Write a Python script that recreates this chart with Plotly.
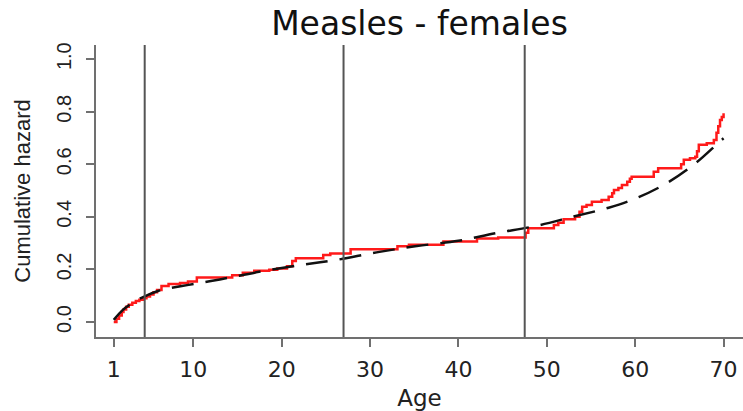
import plotly.graph_objects as go

# Observed cumulative hazard (step function, red)
obs_age = [1.0, 1.3, 1.6, 1.9, 2.1, 2.4, 2.7, 3.1, 3.5, 3.9, 4.3, 4.7, 5.1, 5.5, 5.9,
           6.4, 7.2, 8.5, 9.4, 10.4, 14.4, 15.6, 16.9, 18.6, 19.5, 20.6, 21.2, 21.6,
           24.7, 25.5, 27.8, 33.1, 34.4, 38.3, 42.1, 44.5, 47.6, 47.9, 50.8, 51.3,
           51.9, 53.2, 53.7, 54.0, 54.5, 55.1, 56.2, 57.0, 57.4, 57.6, 58.1, 58.5,
           59.1, 59.4, 59.6, 62.1, 62.6, 65.2, 65.5, 66.2, 66.8, 67.0, 67.2, 68.1,
           68.9, 69.2, 69.4, 69.6, 69.8, 70.0]
obs_haz = [0.0, 0.012, 0.025, 0.038, 0.048, 0.058, 0.066, 0.073, 0.080, 0.085, 0.090,
           0.097, 0.105, 0.113, 0.122, 0.137, 0.145, 0.148, 0.154, 0.169, 0.178, 0.187,
           0.195, 0.199, 0.204, 0.212, 0.232, 0.243, 0.255, 0.261, 0.277, 0.288, 0.294,
           0.306, 0.318, 0.322, 0.340, 0.357, 0.369, 0.378, 0.391, 0.401, 0.420, 0.439,
           0.445, 0.458, 0.464, 0.477, 0.490, 0.502, 0.510, 0.521, 0.534, 0.545, 0.553,
           0.572, 0.585, 0.600, 0.617, 0.623, 0.629, 0.650, 0.674, 0.680, 0.693, 0.720,
           0.745, 0.769, 0.780, 0.794]

# Fitted cumulative hazard (smooth, black dashed)
fit_age = [1, 2, 3, 4.2, 6, 8.7, 13, 17.8, 22.4, 26.3, 30.9, 35.3, 40, 44.2, 48.7,
           53, 57, 60.4, 63.8, 66.9, 69.3, 70]
fit_haz = [0.008, 0.045, 0.070, 0.093, 0.118, 0.137, 0.162, 0.193, 0.218, 0.237,
           0.266, 0.289, 0.309, 0.338, 0.365, 0.401, 0.435, 0.475, 0.533, 0.606,
           0.678, 0.699]

# Vertical reference lines (ages)
vlines = [4.5, 27, 47.5]

x_ticks = [1, 10, 20, 30, 40, 50, 60, 70]
y_ticks = [0.0, 0.2, 0.4, 0.6, 0.8, 1.0]
y_ticklabels = ["0.0", "0.2", "0.4", "0.6", "0.8", "1.0"]

AX = "#707070"
TXT = "#222222"

fig = go.Figure()
fig.add_trace(go.Scatter(x=obs_age, y=obs_haz, mode="lines", line_shape="hv",
                         line=dict(color="#ff1a1a", width=2.5), showlegend=False))
fig.add_trace(go.Scatter(x=fit_age, y=fit_haz, mode="lines", line_shape="spline",
                         line=dict(color="#111111", width=2.5, dash="22px,12px"),
                         showlegend=False))
for v in vlines:
    fig.add_shape(type="line", xref="x", yref="paper", x0=v, x1=v, y0=0, y1=1,
                  line=dict(color="#555555", width=2))

fig.update_layout(
    width=743, height=411,
    margin=dict(l=96, r=0, t=45, b=74),
    paper_bgcolor="white", plot_bgcolor="white",
    title=dict(text="Measles - females", x=0.5, xref="paper", y=1 - 23 / 411,
               yref="container", yanchor="middle", xanchor="center",
               font=dict(family="DejaVu Sans", size=33, color="#111111")),
    xaxis=dict(range=[-1.01, 72.2], showline=True, linecolor=AX, linewidth=2,
               ticks="outside", ticklen=8, tickwidth=2, tickcolor=AX,
               tickvals=x_ticks, showgrid=False, zeroline=False,
               tickfont=dict(family="DejaVu Sans", size=22, color=TXT),
               ticklabelstandoff=4,
               title=dict(text="Age", standoff=10,
                          font=dict(family="DejaVu Sans", size=23, color=TXT))),
    yaxis=dict(range=[-0.057, 1.054], showline=True, linecolor=AX, linewidth=2,
               ticks="outside", ticklen=8, tickwidth=2, tickcolor=AX,
               tickvals=y_ticks, ticktext=y_ticklabels, tickangle=-90,
               showgrid=False, zeroline=False,
               tickfont=dict(family="Liberation Sans", size=20, color=TXT),
               ticklabelstandoff=7,
               title=dict(text="Cumulative hazard", standoff=16,
                          font=dict(family="Liberation Sans", size=22, color=TXT))),
)

fig.write_html("out.html")
